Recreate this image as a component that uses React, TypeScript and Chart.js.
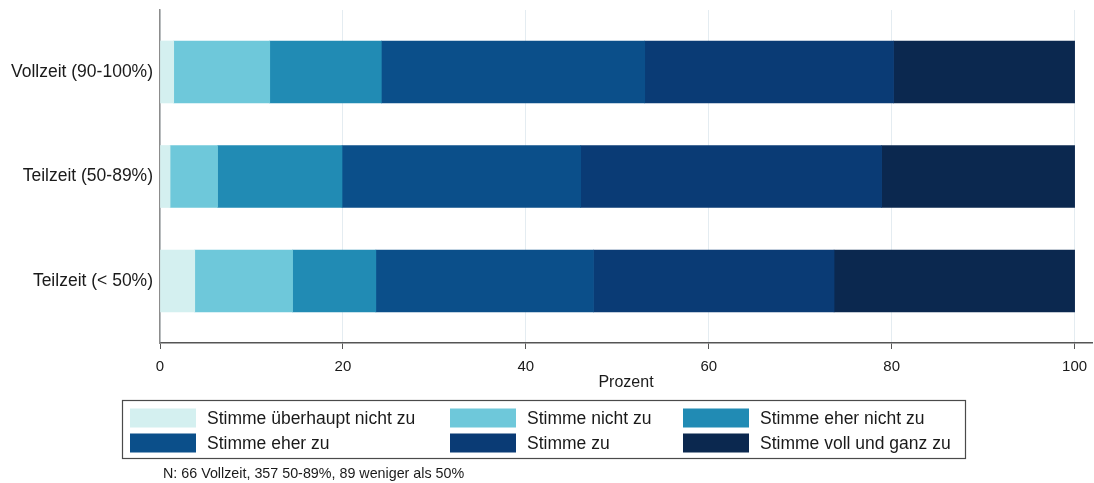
import React, { useEffect, useRef } from 'react';
import { Chart, registerables } from 'chart.js';

Chart.register(...registerables);

const categories = ['Vollzeit (90-100%)', 'Teilzeit (50-89%)', 'Teilzeit (< 50%)'];
const seriesLabels = [
  'Stimme überhaupt nicht zu',
  'Stimme nicht zu',
  'Stimme eher nicht zu',
  'Stimme eher zu',
  'Stimme zu',
  'Stimme voll und ganz zu',
];
const stimmeUeberhauptNichtZu = [1.5, 1.1, 3.8];
const stimmeNichtZu = [10.5, 5.2, 10.7];
const stimmeEherNichtZu = [12.2, 13.6, 9.1];
const stimmeEherZu = [28.8, 26.1, 23.8];
const stimmeZu = [27.2, 32.9, 26.3];
const stimmeVollUndGanzZu = [19.8, 21.1, 26.3];
const seriesValues = [
  stimmeUeberhauptNichtZu,
  stimmeNichtZu,
  stimmeEherNichtZu,
  stimmeEherZu,
  stimmeZu,
  stimmeVollUndGanzZu,
];
const seriesColors = ['#d4f0f0', '#6ec8da', '#218bb4', '#0b4f8a', '#0a3b75', '#0b284f'];
const xTicks = [0, 20, 40, 60, 80, 100];
const xTitle = 'Prozent';
const footnote = 'N: 66 Vollzeit, 357 50-89%, 89 weniger als 50%';

const FONT = '"Liberation Sans", Arial, sans-serif';

const legendPlugin = {
  id: 'stataLegend',
  afterDraw(chart: any) {
    const ctx = chart.ctx;
    ctx.save();
    ctx.strokeStyle = '#4a4a4a';
    ctx.lineWidth = 1.2;
    ctx.strokeRect(122.5, 400.5, 843, 58);
    const colX = [130, 450, 683];
    const rowY = [418, 443];
    ctx.font = `17.5px ${FONT}`;
    ctx.textBaseline = 'middle';
    ctx.textAlign = 'left';
    chart.data.datasets.forEach((ds: any, i: number) => {
      const c = i % 3;
      const r = Math.floor(i / 3);
      ctx.fillStyle = ds.backgroundColor;
      ctx.fillRect(colX[c], rowY[r] - 9.5, 66, 19);
      ctx.fillStyle = '#1a1a1a';
      ctx.fillText(ds.label, colX[c] + 77, rowY[r] + 1);
    });
    ctx.font = `14.3px ${FONT}`;
    ctx.fillStyle = '#1a1a1a';
    ctx.fillText(footnote, 163, 474);
    ctx.restore();
  },
};

export default function App() {
  const ref = useRef<HTMLCanvasElement | null>(null);
  useEffect(() => {
    if (!ref.current) return;
    const chart = new Chart(ref.current, {
      type: 'bar',
      data: {
        labels: categories,
        datasets: seriesLabels.map((label, si) => ({
          label,
          data: seriesValues[si].map((v, ci) => ({ x: v, y: ci })),
          backgroundColor: seriesColors[si],
          borderWidth: 0,
          barThickness: 62,
        })),
      },
      options: {
        indexAxis: 'y',
        animation: false,
        responsive: false,
        layout: { padding: { left: 0, right: 2, top: 10, bottom: 0 } },
        plugins: { legend: { display: false }, tooltip: { enabled: false } },
        scales: {
          x: {
            type: 'linear',
            stacked: true,
            min: 0,
            max: 101.9,
            afterBuildTicks: (axis: any) => {
              axis.ticks = xTicks.map((v) => ({ value: v }));
            },
            afterFit: (scale: any) => {
              scale.height = 140;
              scale.paddingLeft = 0;
              scale.paddingRight = 0;
            },
            grid: {
              color: '#e4ecf1',
              lineWidth: 1,
              tickColor: '#555555',
              tickLength: 6,
              drawTicks: true,
            },
            border: { display: true, color: '#555555', width: 1.5 },
            ticks: {
              color: '#1a1a1a',
              font: { family: FONT, size: 15 },
              padding: 9,
              maxRotation: 0,
            },
            title: {
              display: true,
              text: xTitle,
              color: '#1a1a1a',
              font: { family: FONT, size: 16 },
              padding: { top: 0, bottom: 91 },
            },
          },
          y: {
            type: 'linear',
            stacked: true,
            reverse: true,
            offset: false,
            bounds: 'data',
            min: -0.593,
            max: 2.593,
            afterBuildTicks: (axis: any) => {
              axis.ticks = categories.map((_, i) => ({ value: i }));
            },
            afterFit: (scale: any) => {
              scale.width = 160;
              scale.paddingTop = 0;
              scale.paddingBottom = 0;
            },
            grid: { display: false, drawTicks: false, offset: false },
            border: { display: true, color: '#8c8c8c', width: 1.5 },
            ticks: {
              color: '#1a1a1a',
              font: { family: FONT, size: 17.5 },
              padding: 7,
              callback: (v: any) => categories[v as number] ?? '',
            },
          },
        },
      },
      plugins: [legendPlugin],
    });
    return () => chart.destroy();
  }, []);
  return (
    <div style={{ position: 'fixed', left: 0, top: 0, width: 1094, height: 483, background: '#fff' }}>
      <canvas ref={ref} width={1094} height={483} style={{ display: 'block' }} />
    </div>
  );
}
